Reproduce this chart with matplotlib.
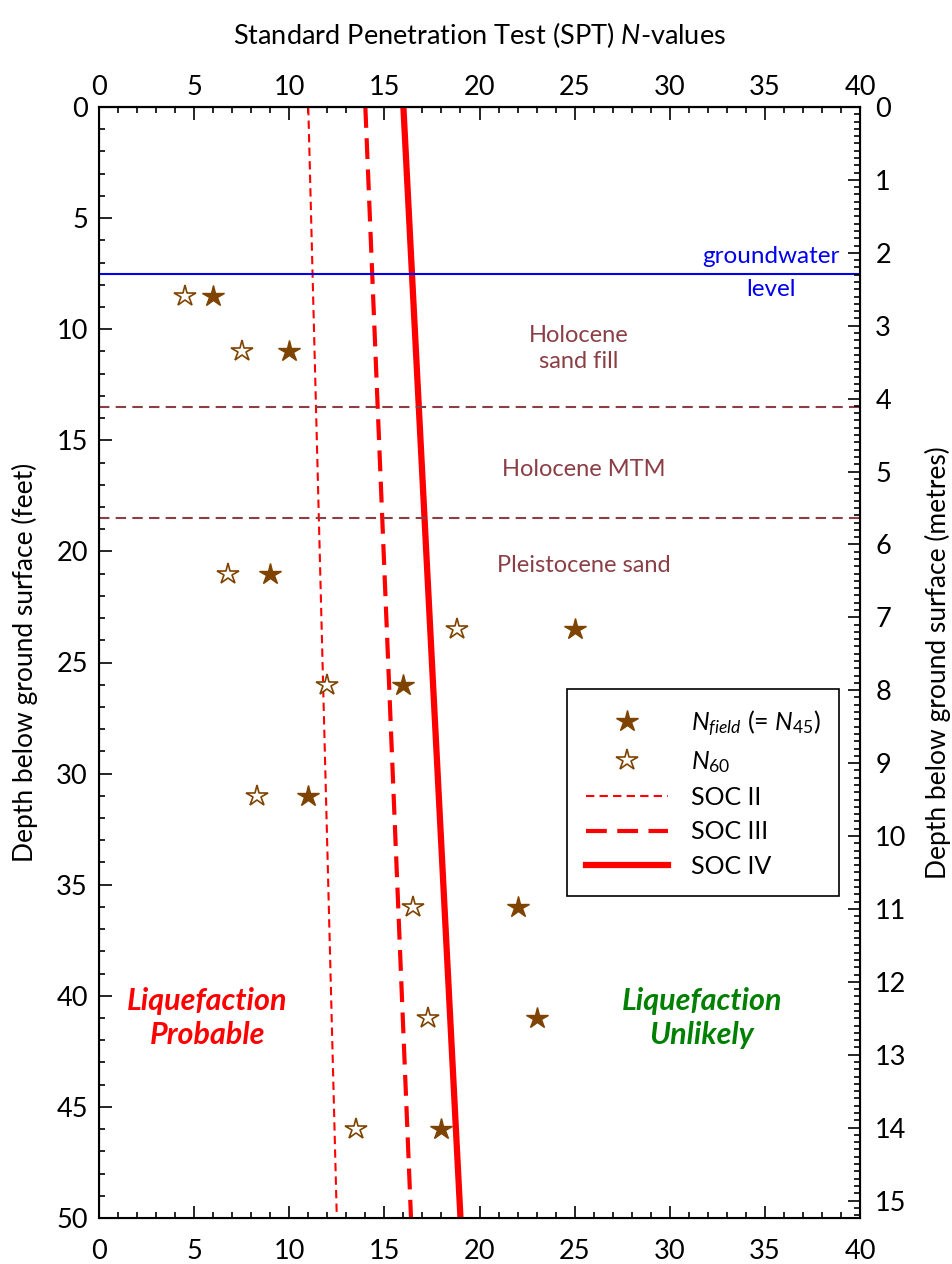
import matplotlib.pyplot as plt
from matplotlib.ticker import FixedLocator, MultipleLocator

plt.rcParams['font.family'] = ['Lato', 'DejaVu Sans']
plt.rcParams['mathtext.fontset'] = 'custom'
plt.rcParams['mathtext.rm'] = 'Lato'
plt.rcParams['mathtext.it'] = 'Lato:italic'

# -------------------------
# DATA
# -------------------------
depth_ft = [8.5, 11, 21, 23.5, 26, 31, 36, 41, 46]
n_field = [6, 10, 9, 25, 16, 11, 22, 23, 18]
n_60 = [4.5, 7.5, 6.8, 18.8, 12, 8.3, 16.5, 17.3, 13.5]

soc_depth = [0, 50]
soc_ii = [11, 12.5]
soc_iii = [14, 16.4]
soc_iv = [16, 19]

groundwater_ft = 7.5
layer_bounds_ft = [13.5, 18.5]
layer_names = ["Holocene\nsand fill", "Holocene MTM", "Pleistocene sand"]
layer_label_pos = [(25.2, 10.85), (25.5, 16.3), (25.5, 20.65)]

n_ticks = list(range(0, 41, 5))
n_minor = list(range(0, 41))

FT_TO_M = 0.3048
brown = '#7f4300'
layer_col = '#8b3f45'
FS = 19.5

fig = plt.figure(figsize=(9.53, 12.64), dpi=100)
ax = fig.add_axes([99/953, 1 - 1218/1264, 761/953, 1111/1264])

# lines
ax.plot(soc_ii, soc_depth, color='red', lw=1.5, dashes=(4, 2.5), label='SOC II')
ax.plot(soc_iii, soc_depth, color='red', lw=3, dashes=(5, 2.5), label='SOC III')
ax.plot(soc_iv, soc_depth, color='red', lw=4.5, label='SOC IV')

ax.axhline(groundwater_ft, color='#0000ee', lw=1.5)
for d in layer_bounds_ft:
    ax.axhline(d, color=layer_col, lw=1.5, dashes=(5, 3))

# points
ax.plot(n_field, depth_ft, ls='none', marker='*', ms=16, color=brown,
        mec=brown, label=r'$N_{field}$ (= $N_{\mathit{45}}$)')
ax.plot(n_60, depth_ft, ls='none', marker='*', ms=16, mfc='white',
        mec=brown, mew=1.2, label=r'$N_{\mathit{60}}$')

# text
ax.text(35.3, 6.75, "groundwater", color='#0000ee', fontsize=17.5, ha='center', va='center')
ax.text(35.3, 8.2, "level", color='#0000ee', fontsize=17.5, ha='center', va='center')
for name, (x, y) in zip(layer_names, layer_label_pos):
    ax.text(x, y, name, color=layer_col, fontsize=17, ha='center', va='center',
            linespacing=1.3)
ax.text(5.7, 41, "Liquefaction\nProbable", color='red', fontsize=22, fontweight='bold',
        style='italic', ha='center', va='center', linespacing=1.3)
ax.text(31.7, 41, "Liquefaction\nUnlikely", color='#008000', fontsize=22, fontweight='bold',
        style='italic', ha='center', va='center', linespacing=1.3)

# axes
ax.set_xlim(0, 40)
ax.set_ylim(50, 0)
ax.xaxis.set_major_locator(FixedLocator(n_ticks))
ax.xaxis.set_minor_locator(FixedLocator(n_minor))
ax.yaxis.set_major_locator(MultipleLocator(5))
ax.yaxis.set_minor_locator(MultipleLocator(1))
ax.tick_params(which='both', direction='in', labelsize=FS, width=1.2)
ax.tick_params(axis='x', pad=15)
ax.tick_params(axis='y', pad=8)
ax.tick_params(which='major', length=9)
ax.tick_params(which='minor', length=4.5)
ax.set_ylabel("Depth below ground surface (feet)", fontsize=19)
ax.yaxis.set_label_coords((25 - 99) / 761, 0.5)
ax.yaxis.label.set_va('center')
for s in ax.spines.values():
    s.set_linewidth(1.5)

top = ax.secondary_xaxis('top')
top.xaxis.set_major_locator(FixedLocator(n_ticks))
top.xaxis.set_minor_locator(FixedLocator(n_minor))
top.tick_params(which='both', direction='in', labelsize=FS, width=1.2, pad=5)
top.tick_params(which='major', length=9)
top.tick_params(which='minor', length=4.5)
top.spines['top'].set_linewidth(1.5)
top.set_xlabel("Standard Penetration Test (SPT) $\\mathit{N}$-values", fontsize=FS, labelpad=22)

ax2 = ax.twinx()
ax2.set_ylim(50 * FT_TO_M, 0)
ax2.yaxis.set_major_locator(MultipleLocator(1))
ax2.yaxis.set_minor_locator(MultipleLocator(0.1))
ax2.tick_params(which='both', direction='in', labelsize=FS, width=1.2, pad=11)
ax2.tick_params(which='major', length=9)
ax2.tick_params(which='minor', length=4.5)
ax2.set_ylabel("Depth below ground surface (metres)", fontsize=19)
ax2.yaxis.set_label_coords((938 - 99) / 761, 0.5)
ax2.yaxis.label.set_va('center')

handles, labels = ax.get_legend_handles_labels()
order = [3, 4, 0, 1, 2]
leg = ax.legend([handles[i] for i in order], [labels[i] for i in order],
                loc='upper left', bbox_to_anchor=(0.615, 0.476), fontsize=18,
                frameon=True, fancybox=False, edgecolor='black', framealpha=1,
                handlelength=3.3, borderpad=0.75, labelspacing=0.45, handletextpad=0.9,
                borderaxespad=0)
leg.get_frame().set_linewidth(1.2)

fig.savefig("out.png", dpi=100)
